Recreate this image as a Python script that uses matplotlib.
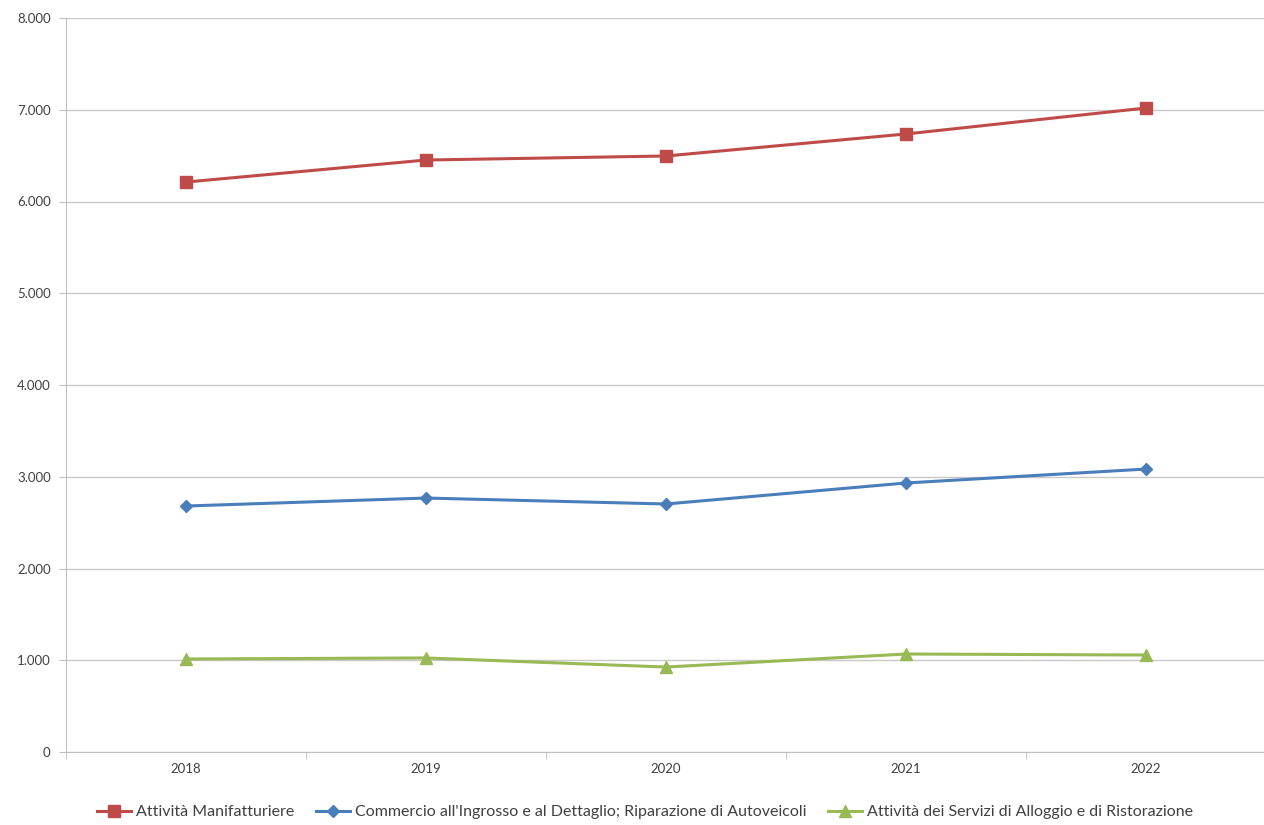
import matplotlib
matplotlib.use("Agg")
import matplotlib.pyplot as plt
from matplotlib.ticker import FuncFormatter, FixedLocator

plt.rcParams['font.family'] = ['Lato', 'DejaVu Sans']

years = ["2018", "2019", "2020", "2021", "2022"]
manifatturiere = [6212, 6452, 6496, 6736, 7019]
commercio = [2681, 2768, 2703, 2932, 3084]
alloggio = [1014, 1025, 926, 1068, 1057]

labels = ["Attività Manifatturiere",
          "Commercio all'Ingrosso e al Dettaglio; Riparazione di Autoveicoli",
          "Attività dei Servizi di Alloggio e di Ristorazione"]

fig = plt.figure(figsize=(12.64, 8.25), dpi=100)
ax = fig.add_axes([66/1264, 73/825, 1200/1264, 734/825])

x = list(range(len(years)))
ax.plot(x, manifatturiere, color="#BE4B48", lw=2.2, marker="s", ms=8, label=labels[0])
ax.plot(x, commercio, color="#4A7EBB", lw=2.2, marker="D", ms=6, label=labels[1])
ax.plot(x, alloggio, color="#98B954", lw=2.2, marker="^", ms=8, label=labels[2])

ax.set_xlim(-0.5, len(years) - 0.5)
ax.set_ylim(0, 8000)
ax.set_yticks(range(0, 8001, 1000))
ax.yaxis.set_major_formatter(FuncFormatter(lambda v, p: f"{int(v):,}".replace(",", ".")))
ax.set_xticks(x)
ax.set_xticklabels(years)
ax.xaxis.set_minor_locator(FixedLocator([i + 0.5 for i in range(-1, len(years))]))
ax.tick_params(axis='x', which='major', length=0, pad=8, labelsize=9.5, colors="#404040")
ax.tick_params(axis='x', which='minor', length=5, color="#BFBFBF")
ax.tick_params(axis='y', length=5, color="#BFBFBF", labelsize=9.5, labelcolor="#404040", pad=6)

ax.grid(axis='y', color="#C8C8C8", lw=1)
ax.set_axisbelow(True)
for s in ["top", "right"]:
    ax.spines[s].set_visible(False)
for s in ["left", "bottom"]:
    ax.spines[s].set_color("#BFBFBF")

fig.legend(loc="center", bbox_to_anchor=(645/1264, 13/825), ncol=3, frameon=False,
           fontsize=11.5, handlelength=2.1, handletextpad=0.3, columnspacing=1.4,
           labelcolor="#404040", borderpad=0, borderaxespad=0)

fig.savefig("out.png", dpi=100)
